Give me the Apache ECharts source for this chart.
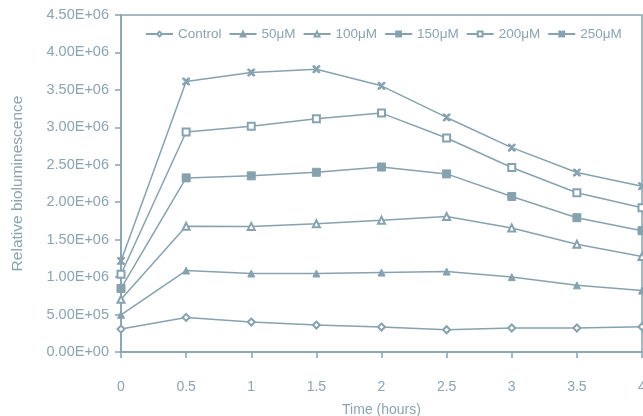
<!DOCTYPE html>
<html>
<head>
<meta charset="utf-8">
<script src="https://cdn.jsdelivr.net/npm/echarts@6/dist/echarts.min.js"></script>
<style>
  html, body { margin: 0; padding: 0; background: #fff; }
  #chart { width: 643px; height: 416px; }
</style>
</head>
<body>
<div id="chart"></div>
<script>
// data
var times = [0, 0.5, 1, 1.5, 2, 2.5, 3, 3.5, 4];
var seriesNames = ['Control', '50μM', '100μM', '150μM', '200μM', '250μM'];
var control = [306000, 462000, 400000, 360000, 333000, 297000, 320000, 320000, 337000];
var c50 = [497000, 1088000, 1048000, 1048000, 1061000, 1074000, 1000000, 890000, 820000];
var c100 = [705000, 1680000, 1677000, 1713000, 1760000, 1810000, 1655000, 1438000, 1274000];
var c150 = [848000, 2325000, 2352000, 2400000, 2470000, 2378000, 2077000, 1793000, 1620000];
var c200 = [1038000, 2938000, 3013000, 3115000, 3190000, 2858000, 2463000, 2126000, 1926000];
var c250 = [1216000, 3612000, 3732000, 3776000, 3554000, 3132000, 2729000, 2396000, 2214000];
var yTickLabels = ['0.00E+00', '5.00E+05', '1.00E+06', '1.50E+06', '2.00E+06',
                   '2.50E+06', '3.00E+06', '3.50E+06', '4.00E+06', '4.50E+06'];

var col = '#87a2af';
var txt = '#8ba4b1';
var xMark = 'path://M0,0L2.5,0L5,3L7.5,0L10,0L10,1.5L6.5,5L10,8.5L10,10L7.5,10L5,7L2.5,10L0,10L0,8.5L3.5,5L0,1.5Z';

function pairs(arr) {
  return arr.map(function (v, i) { return [times[i], v]; });
}

function mk(name, data, symbol, size) {
  return {
    name: name,
    type: 'line',
    data: pairs(data),
    symbol: symbol,
    symbolSize: size,
    showAllSymbol: true,
    lineStyle: { color: col, width: 1.5 },
    itemStyle: { color: col, borderColor: col, borderWidth: 1 },
    emphasis: { disabled: true },
    animation: false
  };
}

var chart = echarts.init(document.getElementById('chart'));
chart.setOption({
  backgroundColor: '#fff',
  textStyle: { fontFamily: 'Liberation Sans, Arial, sans-serif' },
  grid: {
    left: 121, right: 1, top: 15, bottom: 64,
    outerBoundsMode: 'none',
    show: true, borderColor: col, borderWidth: 1.5
  },
  legend: {
    left: 140, top: 22,
    itemWidth: 27, itemHeight: 6, itemGap: 7,
    textStyle: { color: txt, fontSize: 13.5 },
    data: seriesNames
  },
  xAxis: {
    type: 'value', min: 0, max: 4, interval: 0.5,
    name: 'Time (hours)', nameLocation: 'middle', nameGap: 51,
    nameTextStyle: { color: txt, fontSize: 14 },
    axisLine: { lineStyle: { color: col, width: 1.5 } },
    axisTick: { show: true, length: 6, lineStyle: { color: col, width: 1.5 } },
    axisLabel: { color: txt, fontSize: 14, margin: 28 },
    splitLine: { show: false }
  },
  yAxis: {
    type: 'value', min: 0, max: 4500000, interval: 500000,
    name: 'Relative bioluminescence', nameLocation: 'middle', nameGap: 95,
    nameTextStyle: { color: txt, fontSize: 15.5 },
    axisLine: { show: true, lineStyle: { color: col, width: 1.5 } },
    axisTick: { show: true, length: 6, lineStyle: { color: col, width: 1.5 } },
    axisLabel: {
      color: txt, fontSize: 14.5, margin: 12,
      formatter: function (v) { return yTickLabels[Math.round(v / 500000)]; }
    },
    splitLine: { show: false }
  },
  series: [
    mk(seriesNames[0], control, 'emptyDiamond', 7),
    mk(seriesNames[1], c50, 'triangle', 7),
    mk(seriesNames[2], c100, 'emptyTriangle', 7),
    mk(seriesNames[3], c150, 'rect', 8),
    mk(seriesNames[4], c200, 'emptyRect', 7),
    mk(seriesNames[5], c250, xMark, 7)
  ]
});
</script>
</body>
</html>
